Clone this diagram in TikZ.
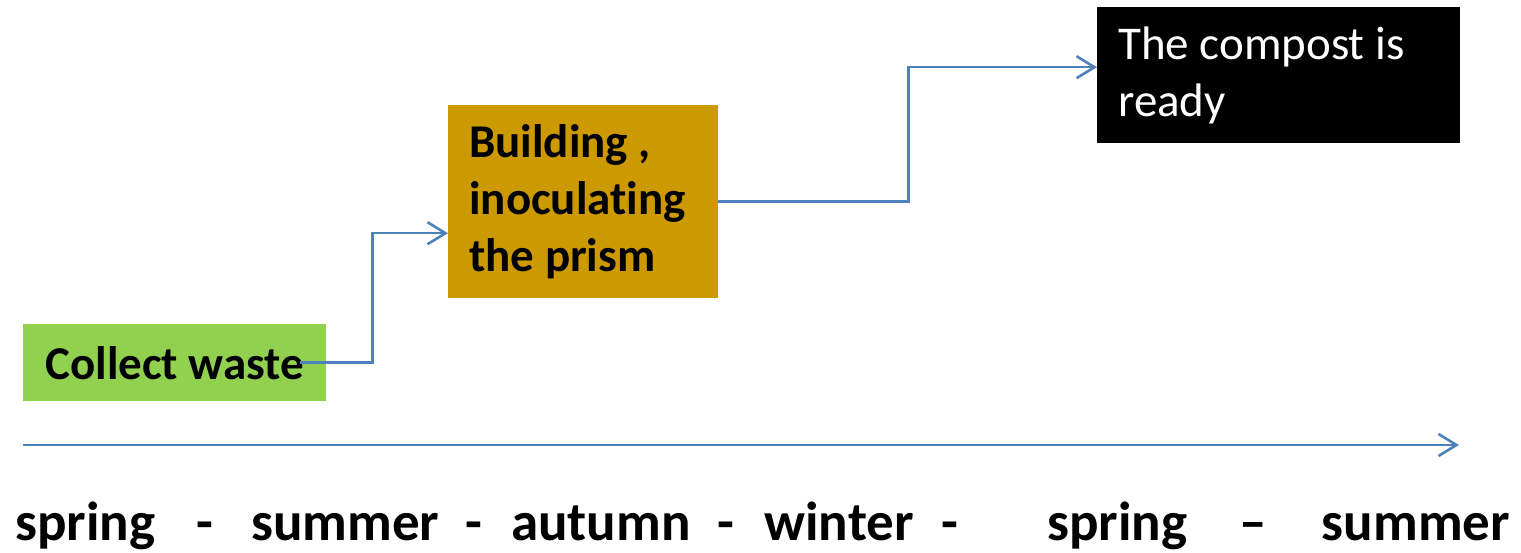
\documentclass[tikz,border=0pt]{standalone}
\usepackage{fontspec}
\setmainfont{Carlito}[Ligatures=NoCommon]
\usetikzlibrary{arrows.meta}

\definecolor{wastegreen}{RGB}{146,208,80}
\definecolor{prismgold}{RGB}{204,153,0}
\definecolor{flowblue}{RGB}{79,129,189}

\begin{document}
\begin{tikzpicture}[x=1pt,y=-1pt,>={Straight Barb[length=18pt,width=22pt]},
        flow/.style={->,draw=flowblue,line width=2.6pt},
        stage/.style={rectangle,inner sep=0pt,anchor=north west,
          font=\fontsize{47}{57}\selectfont}]

  \useasboundingbox (0,0) rectangle (1521,553);

  \node[stage,fill=wastegreen,font=\fontsize{47}{57}\selectfont\bfseries,
        minimum width=303pt,minimum height=77pt] (collect) at (23,324) {Collect waste};
  \node[stage,fill=prismgold,font=\fontsize{47}{57}\selectfont\bfseries,
        minimum width=270pt,minimum height=193pt,text width=228pt,
        inner xsep=21pt,align=flush left] (build) at (448,105)
        {Building ,\\inoculating\\the prism};
  \node[stage,fill=black,text=white,
        minimum width=363pt,minimum height=136pt,text width=321pt,
        inner xsep=21pt,align=flush left] (ready) at (1097,7)
        {The compost is\\ready};

  \draw[flow] ([xshift=-26pt]collect.east) -- ++(72pt,0)
        |- ([yshift=-31.5pt]build.west);
  \draw[flow] (build.east) -- ++(190pt,0) |- ([yshift=8pt]ready.west);

  % time line
  \coordinate (t0) at (23,445);
  \coordinate (t1) at (1459,445);
  \draw[flow] (t0) -- (t1);

  \node[anchor=base west,inner sep=0pt,font=\fontsize{55}{66}\selectfont\bfseries]
        (seasons) at (15,540)
        {spring\hspace{41pt}-\hspace{38pt}summer\hspace{26pt}-\hspace{29pt}autumn\hspace{27pt}-\hspace{30pt}winter\hspace{28pt}-\hspace{89pt}spring\hspace{52pt}–\hspace{55pt}summer};

\end{tikzpicture}
\end{document}
